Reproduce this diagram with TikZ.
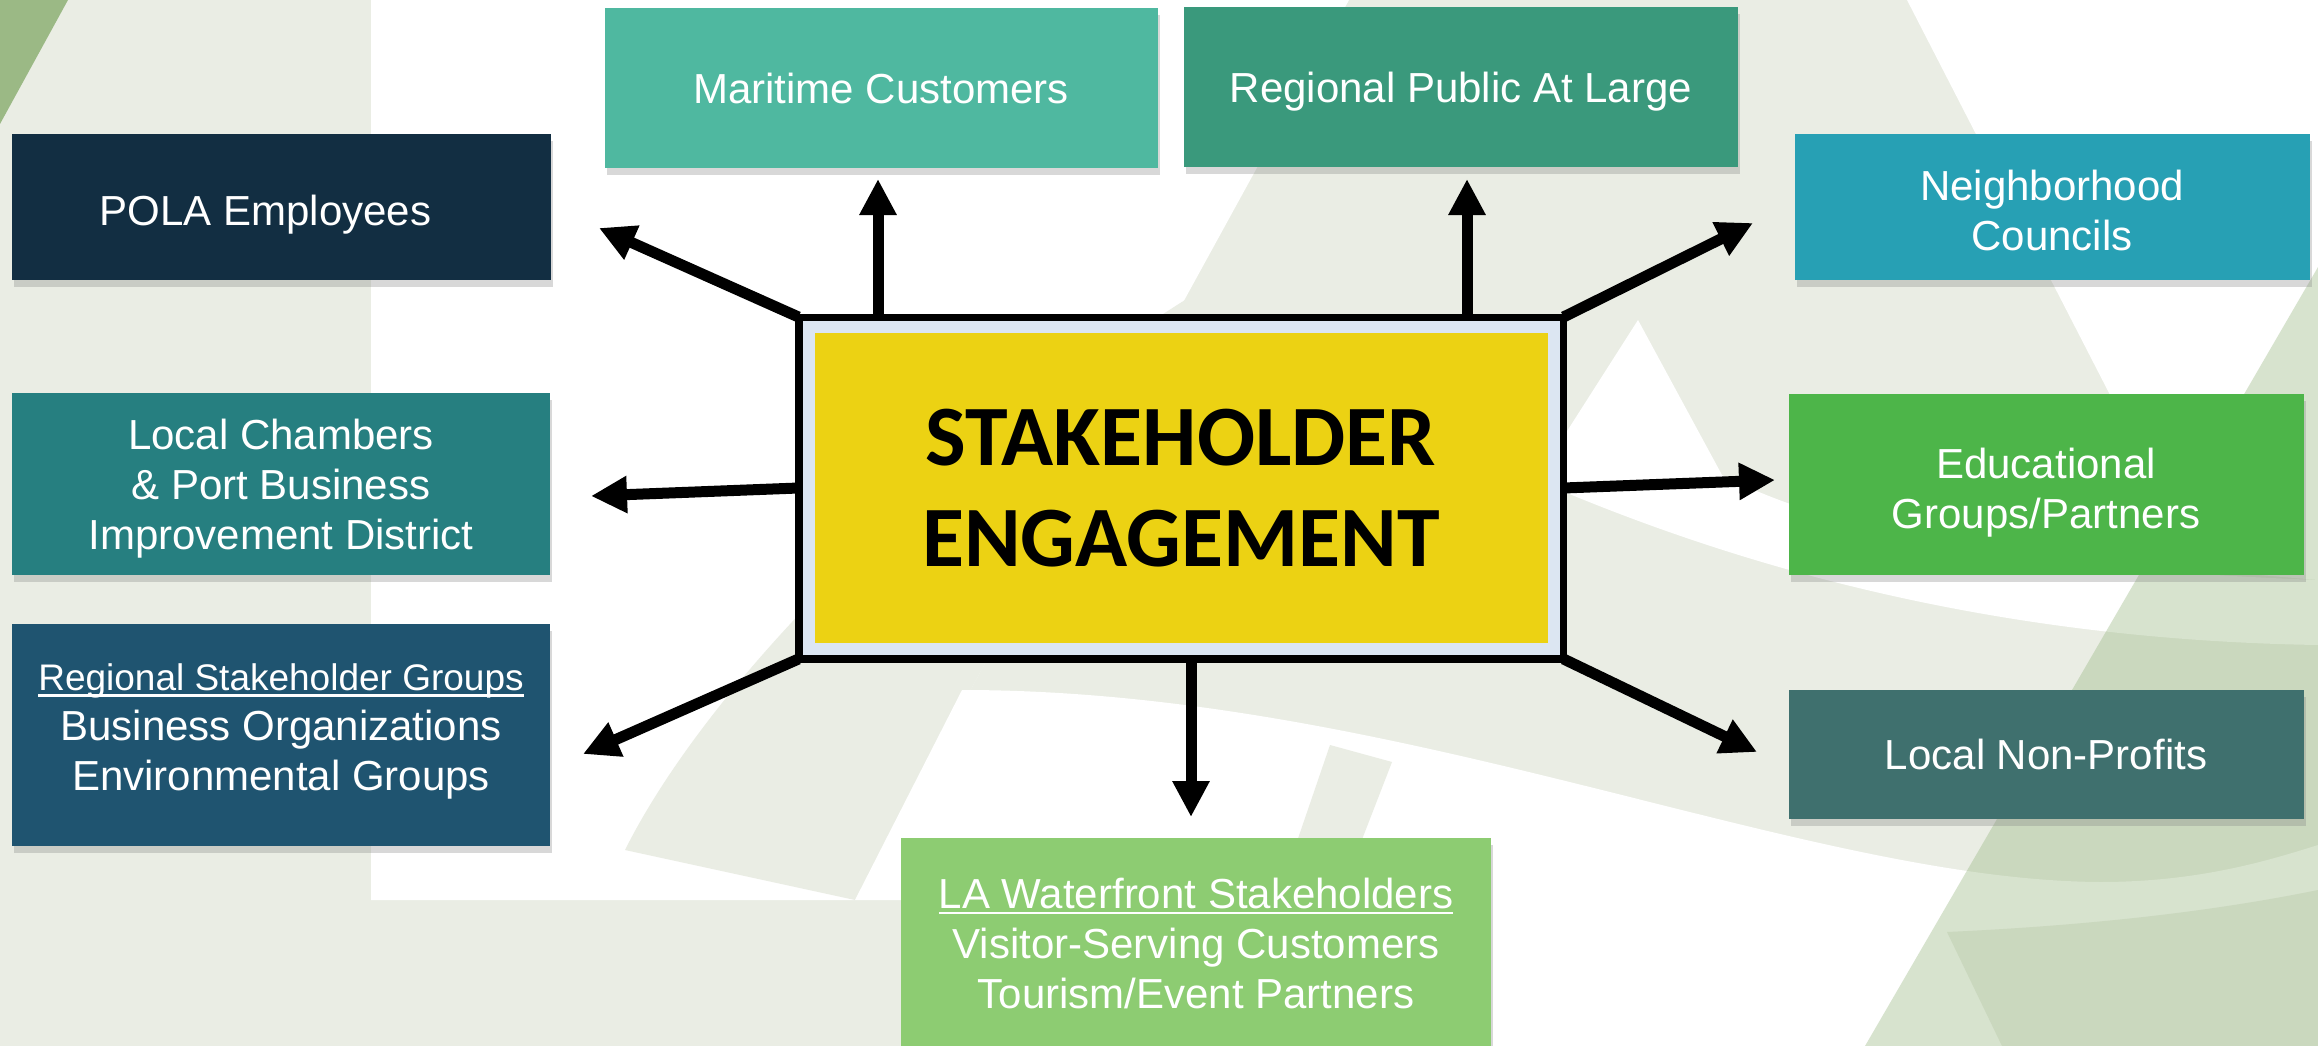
\documentclass[tikz,border=0pt]{standalone}
\usepackage{fontspec}
\setmainfont{Liberation Sans}
\newfontfamily\calibri{Carlito}
\usepackage{xcolor}
\usetikzlibrary{positioning, calc, arrows.meta, shadows}

\definecolor{bggray}{HTML}{EAEDE4}
\definecolor{leafgreen}{HTML}{9BB985}
\definecolor{maritime}{HTML}{4FB8A0}
\definecolor{regpublic}{HTML}{3A997C}
\definecolor{pola}{HTML}{122E42}
\definecolor{councils}{HTML}{27A0B4}
\definecolor{chambers}{HTML}{267F80}
\definecolor{educ}{HTML}{4DB549}
\definecolor{regstake}{HTML}{1F5470}
\definecolor{nonprofit}{HTML}{3F706E}
\definecolor{waterfront}{HTML}{8DCC72}
\definecolor{coreyellow}{HTML}{ECD213}
\definecolor{coreblue}{HTML}{DCE6F2}

\newcommand\ulbox[1]{\leavevmode\setbox0\hbox{#1}\rlap{\copy0}\rule[-6pt]{\wd0}{2.5pt}}
\newcommand\lift[1]{\rule{0pt}{#1}}

\tikzset{
  party/.style={text=white, align=center, inner sep=0pt,
    font=\fontsize{42}{50}\selectfont,
    execute at begin node={\rule{0pt}{40pt}},
    execute at end node={\rule[-9pt]{0pt}{9pt}},
    drop shadow={shadow xshift=2pt, shadow yshift=-7pt, opacity=.3}},
  corebox/.style={fill=coreyellow, draw=coreblue, line width=12pt,
    preaction={draw=black, line width=27pt},
    minimum width=745pt, minimum height=322pt, inner sep=0pt, outer sep=10pt,
    align=center, font=\calibri\bfseries\fontsize{86}{101}\selectfont},
  reach/.style={-{Triangle[length=36pt,width=35pt]}, line width=11pt},
}

\begin{document}
\begin{tikzpicture}[x=1pt, y=-1pt]
        \useasboundingbox (0,0) rectangle (2318,1046);
        % background logo
        \fill[bggray] (0,0) rectangle (2318,1046);
        \fill[leafgreen] (0,0) -- (68,0) -- (0,124) -- cycle;
        \fill[white] (371,0) -- (1349,0) -- (855,900) -- (371,900) -- cycle;
        \fill[bggray] (625,850) .. controls (700,700) and (900,480) .. (1185,300) -- (855,900) -- cycle;
        \fill[white] (855,900) -- (962,690) .. controls (1400,690) and (1800,880) .. (2100,882)
            .. controls (2200,882) and (2270,860) .. (2318,845)
            -- (2318,1046) -- (905,1046) -- (905,900) -- cycle;
        \fill[bggray] (1330,745) -- (1392,762) -- (1282,1046) -- (1227,1046) -- cycle;
        \fill[bggray] (2002,1046) -- (1947,932) .. controls (2100,925) and (2220,910) .. (2318,890) -- (2318,1046) -- cycle;
        \fill[white] (1638,320) -- (1722,475) .. controls (1850,540) and (2050,570) .. (2318,580)
            -- (2318,645) .. controls (2000,640) and (1750,570) .. (1555,488) -- (1555,450) -- cycle;
        \fill[white] (1907,0) -- (2318,0) -- (2318,580) -- (2200,570) -- cycle;
        \fill[leafgreen, opacity=.4] (2318,267) -- (2318,1046) -- (1865,1046) -- cycle;

        % stakeholder groups
        \node[party, fill=maritime, minimum width=553pt, minimum height=159pt] (mari) at (881,88) {Maritime Customers};
        \node[party, fill=regpublic, minimum width=554pt, minimum height=160pt] (regp) at (1461,87) {Regional Public At Large};
        \node[party, fill=pola, minimum width=539pt, minimum height=145pt] (pola) at (281,207) {\lift{46pt}POLA Employees\hspace*{31pt}};
        \node[party, fill=councils, minimum width=515pt, minimum height=145pt] (coun) at (2052,207) {\lift{45pt}Neighborhood\\Councils};
        \node[party, fill=chambers, minimum width=538pt, minimum height=182pt] (cham) at (281,484) {\lift{39pt}Local Chambers\\\& Port Business\\Improvement District};
        \node[party, fill=educ, minimum width=515pt, minimum height=181pt] (educ) at (2046,484) {\lift{48pt}Educational\\Groups/Partners};
        \node[party, fill=regstake, minimum width=538pt, minimum height=222pt,
            execute at end node={\rule[-15pt]{0pt}{15pt}}] (regs) at (281,735)
            {\ulbox{\fontsize{37}{44}\selectfont Regional Stakeholder Groups}\\Business Organizations\\Environmental Groups};
        \node[party, fill=nonprofit, minimum width=515pt, minimum height=129pt] (nonp) at (2046,754) {Local Non-Profits};
        \node[party, fill=waterfront, minimum width=590pt, minimum height=210pt] (wate) at (1196,943) {\lift{39pt}\ulbox{LA Waterfront Stakeholders}\\Visitor-Serving Customers\\Tourism/Event Partners};

        \node[corebox] (core) at (1181,488) {STAKEHOLDER\\ENGAGEMENT};

        % arrow tips
        \coordinate (t-pola) at (599,228);
        \coordinate (t-mari) at (878,179);
        \coordinate (t-regp) at (1467,179);
        \coordinate (t-coun) at (1753,223);
        \coordinate (t-cham) at (591,496);
        \coordinate (t-educ) at (1775,480);
        \coordinate (t-regs) at (583,754);
        \coordinate (t-wate) at (1191,817);
        \coordinate (t-nonp) at (1757,752);

        \draw[reach] (core.north west) -- (t-pola);
        \draw[reach] (core.north -| t-mari) -- (t-mari);
        \draw[reach] (core.north -| t-regp) -- (t-regp);
        \draw[reach] (core.north east) -- (t-coun);
        \draw[reach] (core.west) -- (t-cham);
        \draw[reach] (core.east) -- (t-educ);
        \draw[reach] (core.south west) -- (t-regs);
        \draw[reach] (core.south -| t-wate) -- (t-wate);
        \draw[reach] (core.south east) -- (t-nonp);
    \end{tikzpicture}
\end{document}
